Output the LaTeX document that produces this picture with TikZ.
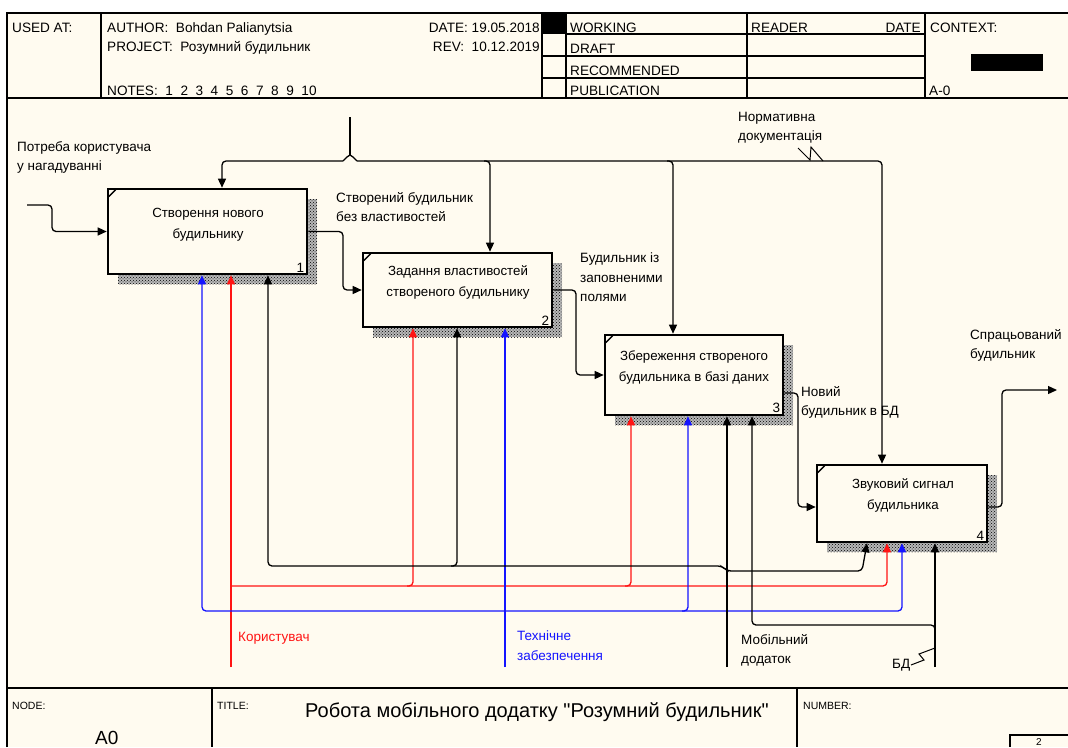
\documentclass[tikz,border=0pt]{standalone}
\usepackage{fontspec}
\setmainfont{Liberation Sans}[Ligatures=TeXOff]
\usetikzlibrary{arrows.meta,patterns}
\definecolor{paper}{RGB}{255,251,240}
\definecolor{idefred}{RGB}{255,20,20}
\definecolor{idefblue}{RGB}{20,20,255}
\tikzset{
  frame/.style={line width=1.5pt},
  thin frame/.style={line width=1.2pt},
  hdr/.style={font=\fontsize{13.6}{15}\selectfont, inner sep=0pt, anchor=base west},
  small hdr/.style={font=\fontsize{10.5}{12}\selectfont, inner sep=0pt, anchor=base west},
  lbl/.style={font=\fontsize{13.5}{19.5}\selectfont, align=left, inner sep=0pt, anchor=north west},
  boxtext/.style={font=\fontsize{13.3}{21}\selectfont, align=center, inner sep=0pt},
  box/.style={draw, line width=2.6pt, fill=paper, inner sep=0pt},
  boxnum/.style={font=\fontsize{13.5}{15}\selectfont, inner sep=0pt, anchor=south east},
  shadow base/.style={fill=black!28},
  shadow/.style={pattern=crosshatch dots, pattern color=black},
  conn/.style={line width=1.3pt, rounded corners=4pt},
  tip/.style={-{Triangle[length=9pt,width=8pt]}},
  both/.style={{Triangle[length=9pt,width=8pt]}-{Triangle[length=9pt,width=8pt]}},
}
\begin{document}
\begin{tikzpicture}[x=1pt,y=-1pt]
\useasboundingbox (0,0) rectangle (1068,747);
\fill[white] (0,0) rectangle (1068,747);
\fill[paper] (7,13) rectangle (1068,747);

% ---------- header ----------
\draw[frame] (7,747) -- (7,13) -- (1068,13);
\draw[frame] (7,98) -- (1068,98);
\draw[frame] (101,13) -- (101,98);
\draw[frame] (542,13) -- (542,98);
\draw[frame] (566,13) -- (566,98);
\draw[frame] (747,13) -- (747,98);
\draw[frame] (925,13) -- (925,98);
\draw[thin frame] (566,34) -- (925,34);
\draw[thin frame] (542,56) -- (925,56);
\draw[thin frame] (542,78) -- (925,78);
\fill[black] (542,13) rectangle (566,34);
\fill[black] (971,54) rectangle (1043,71);

\node[hdr] (usedat) at (12,32) {USED AT:};
\node[hdr] (author) at (107,32) {AUTHOR:\ \ Bohdan Palianytsia};
\node[hdr] (project) at (107,51) {PROJECT:\ \ Розумний будильник};
\node[hdr] (notes) at (107,95) {NOTES:\ \ 1\ \ 2\ \ 3\ \ 4\ \ 5\ \ 6\ \ 7\ \ 8\ \ 9\ \ 10};
\node[hdr, anchor=base east] (date) at (540,32) {DATE: 19.05.2018};
\node[hdr, anchor=base east] (rev) at (540,51) {REV:\ \ 10.12.2019};
\node[hdr] (working) at (570,32) {WORKING};
\node[hdr] (draft) at (570,53) {DRAFT};
\node[hdr] (recom) at (570,75) {RECOMMENDED};
\node[hdr] (publ) at (570,95) {PUBLICATION};
\node[hdr] (reader) at (751,32) {READER};
\node[hdr, anchor=base east] (rdate) at (921,32) {DATE};
\node[hdr] (context) at (930,32) {CONTEXT:};
\node[hdr] (ctxnode) at (929,95) {A-0};

% ---------- footer ----------
\draw[frame] (7,688) -- (1068,688);
\draw[frame] (212,688) -- (212,747);
\draw[frame] (797,688) -- (797,747);
\draw[thin frame] (1068,735) -- (1010,735) -- (1010,747);
\node[small hdr] (nodelbl) at (12,709) {NODE:};
\node[small hdr] (titlelbl) at (217,709) {TITLE:};
\node[small hdr] (numlbl) at (803,709) {NUMBER:};
\node[hdr, font=\fontsize{20}{22}\selectfont] (title) at (305,717) {Робота мобільного додатку "Розумний будильник"};
\node[hdr, font=\fontsize{19}{22}\selectfont] (nodeid) at (95,744) {A0};
\node[hdr, font=\fontsize{10}{11}\selectfont] (pageno) at (1036,745.5) {2};

% ---------- activity boxes with hatched shadows ----------
\foreach \x/\y/\w/\h in {118/199/199/85, 373/263/189/74, 615/345/178/80, 827/475/170/77}{
  \fill[shadow base] (\x,\y) rectangle ++(\w,\h);
  \fill[shadow] (\x,\y) rectangle ++(\w,\h);
}
\node[box, minimum width=199pt, minimum height=85pt] (b1) at (207.5,231.5) {};
\node[box, minimum width=189pt, minimum height=74pt] (b2) at (457.5,290) {};
\node[box, minimum width=178pt, minimum height=80pt] (b3) at (694,375) {};
\node[box, minimum width=170pt, minimum height=77pt] (b4) at (902,503.5) {};

\foreach \b in {b1,b2,b3,b4}{
  \draw[line width=1.3pt] ([shift={(2,9)}]\b.north west) -- ([shift={(9,2)}]\b.north west);
}

\node[boxtext] (t1) at (208,225) {Створення нового\\будильнику};
\node[boxtext] (t2) at (458,282) {Задання властивостей\\створеного будильнику};
\node[boxtext] (t3) at (694,367) {Збереження створеного\\будильника в базі даних};
\node[boxtext] (t4) at (903,495) {Звуковий сигнал\\будильника};
\node[boxnum] (n1) at ([shift={(-4,-3)}]b1.south east) {1};
\node[boxnum] (n2) at ([shift={(-4,-3)}]b2.south east) {2};
\node[boxnum] (n3) at ([shift={(-4,-3)}]b3.south east) {3};
\node[boxnum] (n4) at ([shift={(-4,-3)}]b4.south east) {4};

% ---------- controls from the top ----------
\coordinate (ctop) at (350,117);
\draw[line width=1.3pt] (ctop) -- (350,155);
\draw[line width=1.3pt] (343,161) -- (347,157) -- (350,155) -- (353,157) -- (357,161);
\draw[conn, tip] (343,161) -- (222,161) -- (222,161 |- b1.north);
\draw[conn, tip] (357,161) -- (882,161) -- (882,161 |- b4.north);
\draw[conn, tip] (484,161) -- (490,161) -- (490,161 |- b2.north);
\draw[conn, tip] (667,161) -- (673,161) -- (673,161 |- b3.north);
\node[lbl] (normdoc) at (738,112) {Нормативна\\документація};
\draw[line width=1pt] (798,148) -- (810,160) -- (811,147) -- (823,161);

% ---------- input and flows between activities ----------
\coordinate (in1) at (27,205);
\node[lbl] (need) at (17,141) {Потреба користувача\\у нагадуванні};
\draw[conn, tip] (in1) -- (52,205) -- (52,231.5) -- (b1.west);
\draw[conn, tip] (b1.east) -- (343,231.5) -- (343,290) -- (b2.west);
\node[lbl] (f12) at (336,192) {Створений будильник\\без властивостей};
\draw[conn, tip] (b2.east) -- (576,290) -- (576,375) -- (b3.west);
\node[lbl] (f23) at (580,253) {Будильник із\\заповненими\\полями};
\draw[conn, tip] (b3.east |- 0,393) -- (798,393) -- (798,507) -- (b4.west |- 0,507);
\node[lbl] (f34) at (801,386) {Новий\\будильник в БД};
\coordinate (out4) at (1057,390);
\draw[conn, tip] (b4.east |- 0,507) -- (1002,507) -- (1002,390) -- (out4);
\node[lbl] (result) at (970,329) {Спрацьований\\будильник};

% ---------- mechanisms from the bottom ----------
% user
\coordinate (muser) at (231,667);
\draw[conn, idefred, tip] (muser) -- (muser |- b1.south);
\draw[conn, idefred, tip] (231,586) -- (887,586) -- (887,586 |- b4.south);
\draw[conn, idefred, tip] (407,586) -- (413,586) -- (413,586 |- b2.south);
\draw[conn, idefred, tip] (625,586) -- (631,586) -- (631,586 |- b3.south);
\node[lbl, text=idefred] (user) at (238,632) {Користувач};

% hardware
\coordinate (mhw) at (505,667);
\draw[conn, idefblue, tip] (mhw) -- (mhw |- b2.south);
\draw[conn, idefblue, both] (202,611 |- b1.south) -- (202,611) -- (902,611) -- (902,611 |- b4.south);
\draw[conn, idefblue, tip] (682,611) -- (688,611) -- (688,611 |- b3.south);
\node[lbl, text=idefblue] (hw) at (517,631) {Технічне\\забезпечення};

% mobile application
\coordinate (mapp) at (727,667);
\draw[conn, tip] (mapp) -- (mapp |- b3.south);
\draw[conn, both] (268,566 |- b1.south) -- (268,566) -- (722,566) -- (727,571) -- (862,571) -- (867,571 |- b4.south);
\draw[conn, tip] (451,566) -- (457,566) -- (457,566 |- b2.south);
\node[lbl] (app) at (741,634) {Мобільний\\додаток};

% database
\coordinate (mdb) at (935,667);
\draw[conn, tip] (mdb) -- (mdb |- b4.south);
\draw[conn, tip] (935,632) -- (935,625) -- (752,625) -- (752,625 |- b3.south);
\node[lbl] (db) at (892,659) {БД};
\draw[line width=1pt] (911,665) -- (924,660) -- (919,654) -- (935,648);
\end{tikzpicture}
\end{document}
